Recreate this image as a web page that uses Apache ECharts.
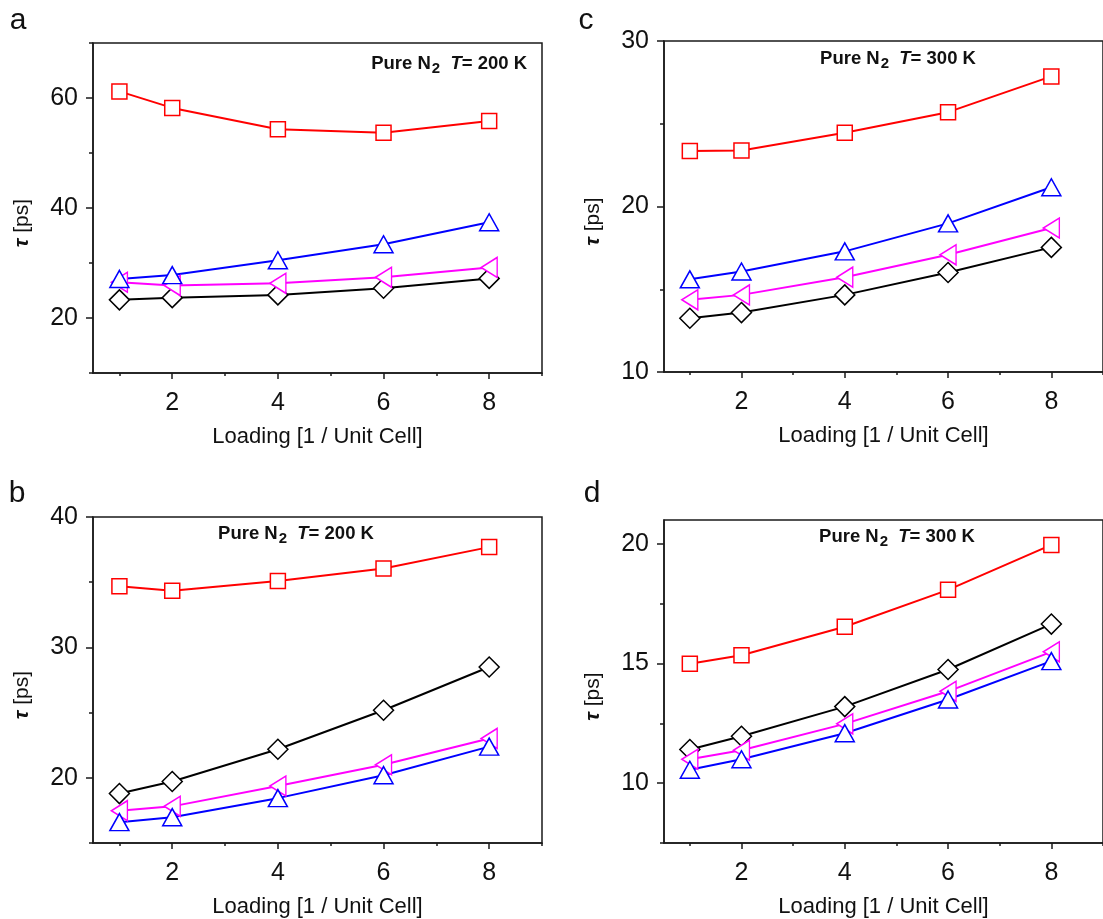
<!DOCTYPE html>
<html>
<head>
<meta charset="utf-8">
<script src="https://cdn.jsdelivr.net/npm/echarts@6/dist/echarts.min.js"></script>
<style>
html, body { margin: 0; padding: 0; background: #fff; }
#main { width: 1103px; height: 919px; }
</style>
</head>
<body>
<div id="main"></div>
<script>
// loading, molecules per unit cell
var loading = [1, 2, 4, 6, 8];
var xLabels = [2, 4, 6, 8];
var xMinor = [1, 3, 5, 7, 9];

// panel a : pure N2, 200 K
var aRed = [61.2, 58.2, 54.3, 53.7, 55.8];
var aBlue = [27.1, 27.8, 30.5, 33.4, 37.4];
var aMagenta = [26.5, 25.9, 26.3, 27.4, 29.2];
var aBlack = [23.3, 23.7, 24.2, 25.4, 27.2];
var aYLabels = [20, 40, 60];
var aYMinor = [10, 30, 50, 70];

// panel c : pure N2, 300 K
var cRed = [23.36, 23.38, 24.45, 25.7, 27.86];
var cBlue = [15.6, 16.07, 17.29, 18.98, 21.16];
var cMagenta = [14.36, 14.66, 15.73, 17.08, 18.7];
var cBlack = [13.25, 13.59, 14.66, 16.01, 17.53];
var cYLabels = [10, 20, 30];
var cYMinor = [15, 25];

// panel b : pure N2, 200 K
var bRed = [34.69, 34.34, 35.09, 36.05, 37.69];
var bBlack = [18.79, 19.72, 22.19, 25.18, 28.5];
var bMagenta = [17.48, 17.81, 19.37, 21.0, 23.02];
var bBlue = [16.6, 16.98, 18.44, 20.2, 22.39];
var bYLabels = [20, 30, 40];
var bYMinor = [15, 25, 35];

// panel d : pure N2, 300 K
var dRed = [14.99, 15.35, 16.54, 18.08, 19.96];
var dBlack = [11.41, 11.96, 13.2, 14.75, 16.65];
var dMagenta = [11.0, 11.38, 12.48, 13.84, 15.49];
var dBlue = [10.56, 11.0, 12.09, 13.5, 15.1];
var dYLabels = [10, 15, 20];
var dYMinor = [7.5, 12.5, 17.5];

var FONT = "'Liberation Sans', Arial, sans-serif";
var AXIS_COLOR = '#1a1a1a';

var styles = {
  red: { color: '#ff0000', symbol: 'rect', size: 15, rotate: 0 },
  blue: { color: '#0000ff', symbol: 'triangle', size: [19, 17], rotate: 0 },
  magenta: { color: '#ff00ff', symbol: 'triangle', size: [20, 16], rotate: 90 },
  black: { color: '#000000', symbol: 'diamond', size: 20, rotate: 0 }
};

var panels = [
  { grid: { left: 93, top: 43, width: 449, height: 330 }, ymin: 10, ymax: 70,
    yLabels: aYLabels, yMinor: aYMinor,
    lines: [['red', aRed], ['black', aBlack], ['magenta', aMagenta], ['blue', aBlue]] },
  { grid: { left: 664, top: 41, right: -10, height: 331 }, ymin: 10, ymax: 30,
    yLabels: cYLabels, yMinor: cYMinor,
    lines: [['red', cRed], ['black', cBlack], ['magenta', cMagenta], ['blue', cBlue]] },
  { grid: { left: 93, top: 517, width: 449, height: 331 }, ymin: 15, ymax: 40,
    yLabels: bYLabels, yMinor: bYMinor,
    lines: [['red', bRed], ['black', bBlack], ['magenta', bMagenta], ['blue', bBlue]] },
  { grid: { left: 664, top: 520, right: -10, height: 328 }, ymin: 7.5, ymax: 21,
    yLabels: dYLabels, yMinor: dYMinor,
    lines: [['red', dRed], ['black', dBlack], ['magenta', dMagenta], ['blue', dBlue]] }
];

var grids = [], xAxes = [], yAxes = [], series = [];

panels.forEach(function (p, i) {
  var g = Object.assign({ show: true, borderColor: AXIS_COLOR, borderWidth: 1.5,
    backgroundColor: 'transparent', containLabel: false }, p.grid);
  grids.push(g);

  // main x axis with labels and long ticks
  xAxes.push({
    type: 'value', gridIndex: i, min: 0.5, max: 9, position: 'bottom',
    name: 'Loading [1 / Unit Cell]', nameLocation: 'middle', nameGap: 53,
    nameTextStyle: { fontFamily: FONT, fontSize: 22, color: '#111' },
    axisLine: { onZero: false, lineStyle: { color: AXIS_COLOR, width: 1.5 } },
    axisTick: { show: true, inside: false, length: 6, customValues: xLabels,
      lineStyle: { color: AXIS_COLOR, width: 1.5 } },
    axisLabel: { customValues: xLabels, fontFamily: FONT, fontSize: 25, color: '#111', margin: 18 },
    splitLine: { show: false }
  });
  // short ticks only
  xAxes.push({
    type: 'value', gridIndex: i, min: 0.5, max: 9, position: 'bottom',
    axisLine: { show: false, onZero: false },
    axisTick: { show: true, length: 3, customValues: xMinor,
      lineStyle: { color: AXIS_COLOR, width: 1.5 } },
    axisLabel: { show: false },
    splitLine: { show: false }
  });

  yAxes.push({
    type: 'value', gridIndex: i, min: p.ymin, max: p.ymax, position: 'left',
    name: '{t|\u03c4} [ps]', nameLocation: 'middle', nameGap: 60,
    nameTextStyle: { fontFamily: FONT, fontSize: 21, color: '#111', padding: [0, 30, 0, 0],
      rich: { t: { fontFamily: FONT, fontSize: 21, fontStyle: 'italic', fontWeight: 'bold', color: '#111' } } },
    axisLine: { onZero: false, lineStyle: { color: AXIS_COLOR, width: 1.5 } },
    axisTick: { show: true, length: 7, customValues: p.yLabels,
      lineStyle: { color: AXIS_COLOR, width: 1.5 } },
    axisLabel: { customValues: p.yLabels, fontFamily: FONT, fontSize: 25, color: '#111', margin: 15 },
    splitLine: { show: false }
  });
  yAxes.push({
    type: 'value', gridIndex: i, min: p.ymin, max: p.ymax, position: 'left',
    axisLine: { show: false, onZero: false },
    axisTick: { show: true, length: 4, customValues: p.yMinor,
      lineStyle: { color: AXIS_COLOR, width: 1.5 } },
    axisLabel: { show: false },
    splitLine: { show: false }
  });

  p.lines.forEach(function (ln) {
    var st = styles[ln[0]];
    series.push({
      type: 'line', xAxisIndex: i * 2, yAxisIndex: i * 2,
      data: loading.map(function (x, k) { return [x, ln[1][k]]; }),
      symbol: st.symbol, symbolSize: st.size, symbolRotate: st.rotate,
      showAllSymbol: true,
      lineStyle: { color: st.color, width: 2 },
      itemStyle: { color: '#fff', borderColor: st.color, borderWidth: 1.5 },
      emphasis: { disabled: true }
    });
  });
});

function note(text, x, y, align) {
  return {
    type: 'text', x: x, y: y, z: 100,
    style: {
      text: text, align: align, verticalAlign: 'middle',
      fontFamily: FONT, fontSize: 18.5, fontWeight: 'bold', fill: '#111',
      rich: {
        s: { fontFamily: FONT, fontSize: 15, fontWeight: 'bold', fill: '#111', padding: [10, 0, 0, 1] },
        t: { fontFamily: FONT, fontSize: 18.5, fontWeight: 'bold', fontStyle: 'italic', fill: '#111' }
      }
    }
  };
}
function letter(text, x, y) {
  return { type: 'text', x: x, y: y, z: 100,
    style: { text: text, align: 'center', verticalAlign: 'middle',
      fontFamily: FONT, fontSize: 30, fill: '#111' } };
}

var chart = echarts.init(document.getElementById('main'), null, { renderer: 'canvas' });
chart.setOption({
  animation: false,
  backgroundColor: '#fff',
  grid: grids,
  xAxis: xAxes,
  yAxis: yAxes,
  series: series,
  graphic: [
    letter('a', 18, 21),
    letter('c', 586, 21),
    letter('b', 17, 494),
    letter('d', 592, 494),
    note('Pure N{s|2}  {t|T}= 200 K', 527, 64, 'right'),
    note('Pure N{s|2}  {t|T}= 300 K', 898, 59, 'center'),
    note('Pure N{s|2}  {t|T}= 200 K', 296, 534, 'center'),
    note('Pure N{s|2}  {t|T}= 300 K', 897, 537, 'center')
  ]
});
</script>
</body>
</html>
